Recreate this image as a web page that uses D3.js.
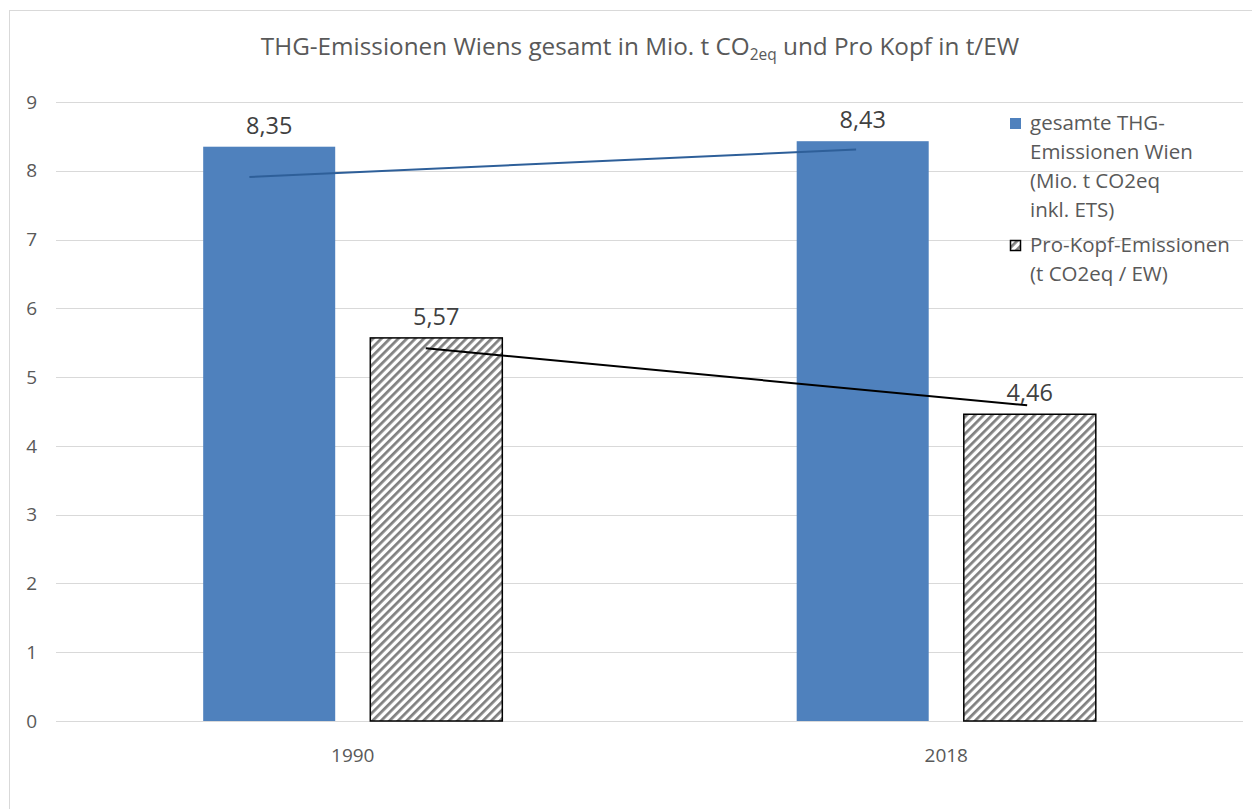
<!DOCTYPE html>
<html>
<head>
<meta charset="utf-8">
<script src="https://cdn.jsdelivr.net/npm/d3@7"></script>
<style>
  body { margin: 0; background: #fff; }
  text { font-family: "Open Sans", sans-serif; }
</style>
</head>
<body>
<div id="chart"></div>
<script>
// data
const years = ["1990", "2018"];
const totalEmissions = [8.35, 8.43];      // Mio. t CO2eq
const perCapita = [5.57, 4.46];           // t CO2eq / EW
const totalLine = [7.91, 8.31];           // drawn line over blue bars
const perCapitaLine = [5.42, 4.59];       // drawn line over hatched bars
const yTicks = [0, 1, 2, 3, 4, 5, 6, 7, 8, 9];
const seriesNames = ["total", "perCapita"];

const W = 1252, H = 809;
const margin = {top: 102, right: 9, bottom: 88, left: 56};
const width = W - margin.left - margin.right,
      height = H - margin.top - margin.bottom;

const svg = d3.select("#chart").append("svg")
    .attr("width", W).attr("height", H);

// hatch pattern
const defs = svg.append("defs");
const pat = defs.append("pattern")
    .attr("id", "hatch")
    .attr("patternUnits", "userSpaceOnUse")
    .attr("width", 6).attr("height", 6)
    .attr("patternTransform", "rotate(45)");
pat.append("rect").attr("width", 6).attr("height", 6).attr("fill", "#fff");
pat.append("line")
    .attr("x1", 0).attr("y1", 0).attr("x2", 0).attr("y2", 6)
    .attr("stroke", "#808080").attr("stroke-width", 5.5);

// chart frame
svg.append("rect")
    .attr("x", 9.5).attr("y", 10.5)
    .attr("width", W).attr("height", H)
    .attr("fill", "none").attr("stroke", "#d9d9d9");

// title
const title = svg.append("text")
    .attr("x", 640).attr("y", 55)
    .attr("text-anchor", "middle")
    .attr("font-size", 24.3)
    .attr("fill", "#595959");
title.append("tspan").text("THG-Emissionen Wiens gesamt in Mio. t CO");
title.append("tspan").attr("font-size", 15.5).attr("dy", 5).text("2eq");
title.append("tspan").attr("dy", -5).text(" und Pro Kopf in t/EW");

const g = svg.append("g")
    .attr("transform", `translate(${margin.left},${margin.top})`);

const x = d3.scaleBand().domain(years).range([0, 1187]);
const xs = d3.scaleBand().domain(seriesNames)
    .range([x.bandwidth() * 0.248, x.bandwidth() * 0.752])
    .paddingInner(0.21);
const y = d3.scaleLinear().domain([0, 9]).range([height, 0]);

// gridlines
g.append("g").selectAll("line").data(yTicks).join("line")
    .attr("x1", 0).attr("x2", 1187)
    .attr("y1", d => Math.round(y(d)) + 0.5).attr("y2", d => Math.round(y(d)) + 0.5)
    .attr("stroke", "#d9d9d9").attr("stroke-width", 1);

// y labels
g.append("g").selectAll("text").data(yTicks).join("text")
    .attr("x", -19).attr("y", d => y(d))
    .attr("dy", "0.35em")
    .attr("text-anchor", "end")
    .attr("font-size", 19).attr("fill", "#595959")
    .text(d => d);

// x labels
g.append("g").selectAll("text").data(years).join("text")
    .attr("x", d => x(d) + x.bandwidth() / 2)
    .attr("y", height + 41)
    .attr("text-anchor", "middle")
    .attr("font-size", 19).attr("fill", "#595959")
    .text(d => d);

const fmt = v => d3.format(".2f")(v).replace(".", ",");

// blue bars
g.append("g").selectAll("rect").data(years).join("rect")
    .attr("x", d => x(d) + xs("total"))
    .attr("y", (d, i) => y(totalEmissions[i]))
    .attr("width", xs.bandwidth())
    .attr("height", (d, i) => height - y(totalEmissions[i]))
    .attr("fill", "#4f81bd");

// hatched bars
g.append("g").selectAll("rect").data(years).join("rect")
    .attr("x", d => x(d) + xs("perCapita"))
    .attr("y", (d, i) => y(perCapita[i]))
    .attr("width", xs.bandwidth())
    .attr("height", (d, i) => height - y(perCapita[i]))
    .attr("fill", "url(#hatch)")
    .attr("stroke", "#000").attr("stroke-width", 1.5);

// value labels
const labels = [
  ...years.map((d, i) => ({year: d, s: "total", v: totalEmissions[i]})),
  ...years.map((d, i) => ({year: d, s: "perCapita", v: perCapita[i]}))
];
g.append("g").selectAll("text").data(labels).join("text")
    .attr("x", d => x(d.year) + xs(d.s) + xs.bandwidth() / 2)
    .attr("y", d => y(d.v) - 13)
    .attr("text-anchor", "middle")
    .attr("font-size", 23.5).attr("fill", "#404040")
    .text(d => fmt(d.v));

// drawn lines
const lineTotal = [
  [x(years[0]) + xs("total") + xs.bandwidth() * 0.35, y(totalLine[0])],
  [x(years[1]) + xs("total") + xs.bandwidth() * 0.45, y(totalLine[1])]
];
const linePer = [
  [x(years[0]) + xs("perCapita") + xs.bandwidth() * 0.42, y(perCapitaLine[0])],
  [x(years[1]) + xs("perCapita") + xs.bandwidth() * 0.48, y(perCapitaLine[1])]
];
g.append("path").attr("d", d3.line()(lineTotal))
    .attr("stroke", "#2e5f99").attr("stroke-width", 2).attr("fill", "none");
g.append("path").attr("d", d3.line()(linePer))
    .attr("stroke", "#000").attr("stroke-width", 2).attr("fill", "none");

// legend
const legend = svg.append("g").attr("transform", "translate(1010,0)");
legend.append("rect").attr("x", 0).attr("y", 118)
    .attr("width", 11).attr("height", 11).attr("fill", "#4f81bd");
const l1 = ["gesamte THG-", "Emissionen Wien", "(Mio. t CO2eq", "inkl. ETS)"];
legend.append("g").selectAll("text").data(l1).join("text")
    .attr("x", 20).attr("y", (d, i) => 130 + i * 29)
    .attr("font-size", 20.5).attr("fill", "#595959")
    .text(d => d);
legend.append("rect").attr("x", 0.5).attr("y", 240.5)
    .attr("width", 10).attr("height", 10)
    .attr("fill", "url(#hatch)").attr("stroke", "#000").attr("stroke-width", 1.5);
const l2 = ["Pro-Kopf-Emissionen", "(t CO2eq / EW)"];
legend.append("g").selectAll("text").data(l2).join("text")
    .attr("x", 20).attr("y", (d, i) => 252 + i * 28.5)
    .attr("font-size", 20.5).attr("fill", "#595959")
    .text(d => d);
</script>
</body>
</html>
